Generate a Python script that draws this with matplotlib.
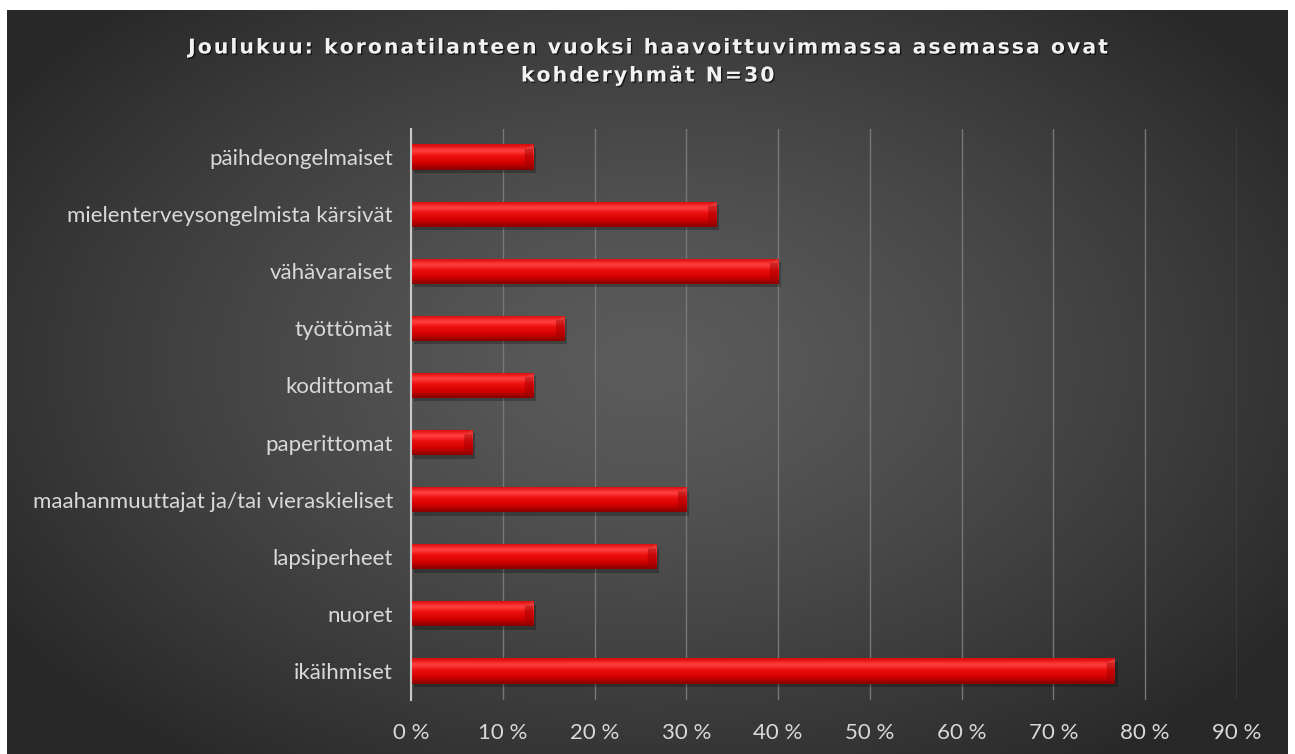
import numpy as np
import matplotlib
matplotlib.use("Agg")
from matplotlib import pyplot as plt
from matplotlib import patheffects as pe

categories = ["päihdeongelmaiset", "mielenterveysongelmista kärsivät", "vähävaraiset",
              "työttömät", "kodittomat", "paperittomat",
              "maahanmuuttajat ja/tai vieraskieliset", "lapsiperheet", "nuoret", "ikäihmiset"]
values = [13.3, 33.3, 40.0, 16.7, 13.3, 6.7, 30.0, 26.7, 13.3, 76.7]
xticks = [0, 10, 20, 30, 40, 50, 60, 70, 80, 90]
title_lines = ["Joulukuu: koronatilanteen vuoksi haavoittuvimmassa asemassa ovat",
               "kohderyhmät N=30"]

W, H = 1295, 754
fig = plt.figure(figsize=(W / 100, H / 100), dpi=100, facecolor="white")

# background with radial gradient (dark area inside a thin white margin)
bg = fig.add_axes([7 / W, 0, (1288 - 7) / W, 1 - 10 / H])
bg.set_axis_off()
gx, gy = np.meshgrid(np.linspace(-1, 1, 400), np.linspace(-1, 1, 240))
r = np.sqrt((gx / 1.0) ** 2 + ((gy + 0.05) / 1.1) ** 2)
r = np.clip(r / 1.2, 0, 1)
shade = 0.36 - 0.20 * r ** 1.3
bg.imshow(np.dstack([shade] * 3), extent=(0, 1, 0, 1), aspect="auto", interpolation="bicubic")
bg.set_xlim(0, 1)
bg.set_ylim(0, 1)

ax = fig.add_axes([411 / W, 1 - 699.5 / H, (1237 - 411) / W, (699.5 - 128.5) / H])
ax.patch.set_alpha(0)

y = np.arange(len(categories))[::-1]
h = 0.44

# soft shadow
ax.barh(y - 0.06, values, height=h, left=0.3, color="black", alpha=0.25, zorder=2)
bars = ax.barh(y, values, height=h, color="#dd0000", zorder=3)

grad = np.array([
    [0.55, 0.00, 0.00],
    [0.70, 0.00, 0.00],
    [0.80, 0.00, 0.00],
    [0.86, 0.02, 0.02],
    [0.90, 0.04, 0.04],
    [0.92, 0.06, 0.06],
    [0.98, 0.16, 0.16],
    [1.00, 0.28, 0.28],
    [0.96, 0.14, 0.14],
    [0.85, 0.05, 0.05],
])
for b in bars:
    x0, y0, w, hh = b.get_x(), b.get_y(), b.get_width(), b.get_height()
    im = ax.imshow(grad[:, None, :], extent=(x0, x0 + w, y0, y0 + hh),
                   aspect="auto", interpolation="bicubic", origin="lower", zorder=4)
    im.set_clip_path(b)
    # bevel at the right end
    d = 0.9
    ax.fill([x0 + w - d, x0 + w, x0 + w, x0 + w - d],
            [y0 + hh * 0.82, y0 + hh, y0, y0 + hh * 0.18],
            color="#9a0000", alpha=0.45, lw=0, zorder=5)
    ax.fill([x0 + w - d, x0 + w, x0 + w],
            [y0 + hh * 0.82, y0 + hh, y0 + hh * 0.82],
            color="#ff5a5a", alpha=0.5, lw=0, zorder=5)

ax.set_xlim(0, 90)
ax.set_ylim(-0.5, len(categories) - 0.5)
ax.set_xticks(xticks)
ax.set_xticklabels([f"{t} %" for t in xticks])
ax.set_yticks(y)
ax.set_yticklabels(categories)
ax.grid(axis="x", color="#777777", lw=1, zorder=0)
ax.set_axisbelow(True)
for s in ["top", "right", "bottom"]:
    ax.spines[s].set_visible(False)
ax.spines["left"].set_color("#c8c8c8")
ax.spines["left"].set_linewidth(1.5)
ax.spines["left"].set_zorder(6)
ax.tick_params(length=0, colors="#d9d9d9", labelsize=16)
ax.tick_params(axis="x", pad=17)
ax.tick_params(axis="y", pad=13)
for lbl in ax.get_xticklabels() + ax.get_yticklabels():
    lbl.set_family("Lato")

# spaced-out title, as in the original
shadow = [pe.withSimplePatchShadow(offset=(1, -1), shadow_rgbFace="black", alpha=0.6)]
for i, line in enumerate(title_lines):
    spaced = "\u200a".join(line)
    fig.text(0.5, 1 - (48 + 28 * i) / H, spaced, ha="center", va="center", color="#f2f2f2",
             fontsize=14.7, fontweight="bold", family="DejaVu Sans", path_effects=shadow)

fig.savefig("out.png", dpi=100, facecolor="white")
